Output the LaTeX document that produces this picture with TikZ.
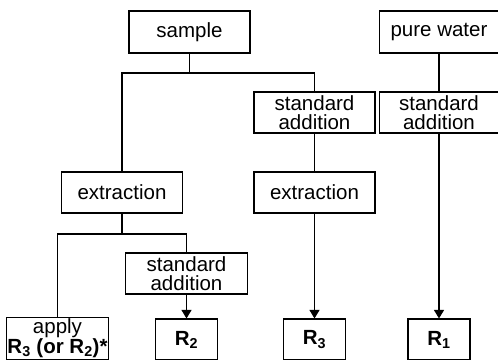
\documentclass[tikz,border=0pt]{standalone}
\usepackage{fontspec}
\setmainfont{Liberation Sans}
\usetikzlibrary{arrows.meta}

\begin{document}
\begin{tikzpicture}[x=1pt,y=1pt,line width=1.1pt,
	box/.style={draw, align=center, inner sep=1pt, minimum height=41pt,
		font=\fontsize{20.5}{18.5}\selectfont},
	wide/.style={box, minimum width=121pt},
	result/.style={box, minimum width=62pt},
	arr/.style={-{Triangle[width=10pt,length=8.5pt]}}]

	% frame
	\useasboundingbox (0,0) rectangle (498,-359);
	\clip (0,0) rectangle (498,-359);

	% top boxes
	\node[wide, minimum height=42pt] (sample) at (189.5,-32) {sample};
	\node[wide, minimum height=42pt, minimum width=119pt] (water) at (439,-32) {pure water};

	% standard additions
	\node[wide] (stdM) at (314.5,-112.5) {standard\\addition};
	\node[wide, minimum width=119pt] (stdR) at (439,-112.5) {standard\\addition};
	\node[wide, minimum width=122pt] (stdL) at (186.5,-273.5) {standard\\addition};

	% extractions
	\node[wide] (extrL) at (122,-192.5) {extraction};
	\node[wide] (extrM) at (314.5,-192.5) {extraction};

	% results
	\node[box, minimum width=99pt, minimum height=40pt] (apply) at (57.5,-338.5)
		{apply\\\textbf{R\textsubscript{3} (or R\textsubscript{2})*}};
	\node[result] (R2) at (186.5,-339.5) {\textbf{R\textsubscript{2}}};
	\node[result] (R3) at (314.5,-339.5) {\textbf{R\textsubscript{3}}};
	\node[result] (R1) at (439,-339.5) {\textbf{R\textsubscript{1}}};

	% branch points
	\coordinate (split1) at (189.5,-73);
	\coordinate (split2) at (122,-234);

	% connections
	\draw (sample) -- (split1);
	\draw (split1) -| (extrL.north);
	\draw (split1) -| (stdM.north);
	\draw (stdM) -- (extrM);
	\draw (water) -- (stdR);

	\draw (extrL) -- (split2);
	\draw (split2) -| (apply.north);
	\draw (split2) -| (stdL.north);

	% arrows
	\draw[arr] (stdL) -- (R2);
	\draw[arr] (extrM) -- (R3);
	\draw[arr] (stdR) -- (R1);

\end{tikzpicture}
\end{document}
